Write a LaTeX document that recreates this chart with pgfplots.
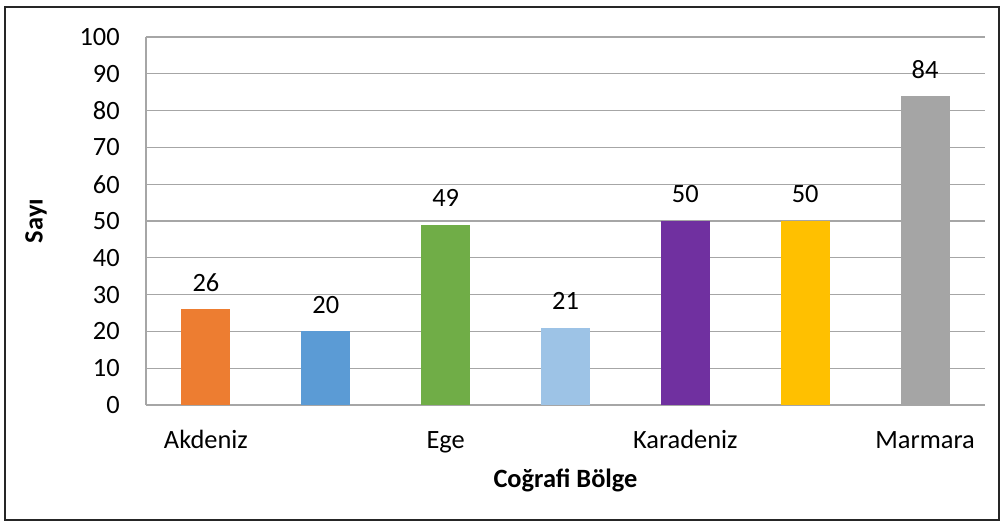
\documentclass[border=0pt]{standalone}
\usepackage{fontspec}
\setmainfont{Carlito}
\usepackage{pgfplots}
\pgfplotsset{compat=1.18}
\definecolor{c1}{HTML}{ED7D31}
\definecolor{c2}{HTML}{5B9BD5}
\definecolor{c3}{HTML}{70AD47}
\definecolor{c4}{HTML}{9DC3E6}
\definecolor{c5}{HTML}{7030A0}
\definecolor{c6}{HTML}{FFC000}
\definecolor{c7}{HTML}{A5A5A5}
\definecolor{gridc}{HTML}{A6A6A6}
\begin{document}
\begin{tikzpicture}[x=1pt,y=1pt]
\useasboundingbox (-109.5,-90) rectangle (643.5,303.75);
\fill[white] (-109.5,-90) rectangle (643.5,303.75);
\draw[black!85, line width=1pt] (-105.75,-86.25) rectangle (639.75,298.5);
\begin{axis}[
  at={(0pt,0pt)}, anchor=south west,
  scale only axis, width=629.25pt, height=276pt,
  xmin=0.5, xmax=7.5, ymin=0, ymax=100,
  ytick={0,10,...,100},
  xtick={1,3,5,7},
  xticklabels={Akdeniz,Ege,Karadeniz,Marmara},
  major tick length=0pt,
  axis x line*=bottom, axis y line*=left,
  axis line style={gridc, line width=1pt, -},
  ymajorgrids, grid style={gridc, line width=1pt},
  /pgf/number format/assume math mode=true,
  ticklabel style={font=\fontsize{19.8}{23}\selectfont},
  yticklabel style={anchor=east, inner sep=0pt, xshift=-19.5pt},
  xticklabel style={anchor=base, inner sep=0pt, yshift=-32.25pt},
  xlabel={Coğrafi Bölge}, ylabel={Sayı},
  label style={font=\fontsize{19.8}{23}\selectfont\bfseries},
  xlabel style={at={(axis description cs:0.5,-0.2038)}, anchor=center},
  ylabel style={at={(axis description cs:-0.131,0.5)}, anchor=center},
  ybar, bar width=36.75pt, bar shift=0pt,
  nodes near coords,
  every node near coord/.append style={font=\fontsize{19.8}{23}\selectfont, anchor=center, yshift=20pt, black},
  clip=false,
]
\addplot[fill=c1, draw=none] coordinates {(1,26)};
\addplot[fill=c2, draw=none] coordinates {(2,20)};
\addplot[fill=c3, draw=none] coordinates {(3,49)};
\addplot[fill=c4, draw=none] coordinates {(4,21)};
\addplot[fill=c5, draw=none] coordinates {(5,50)};
\addplot[fill=c6, draw=none] coordinates {(6,50)};
\addplot[fill=c7, draw=none] coordinates {(7,84)};
\end{axis}
\end{tikzpicture}
\end{document}
